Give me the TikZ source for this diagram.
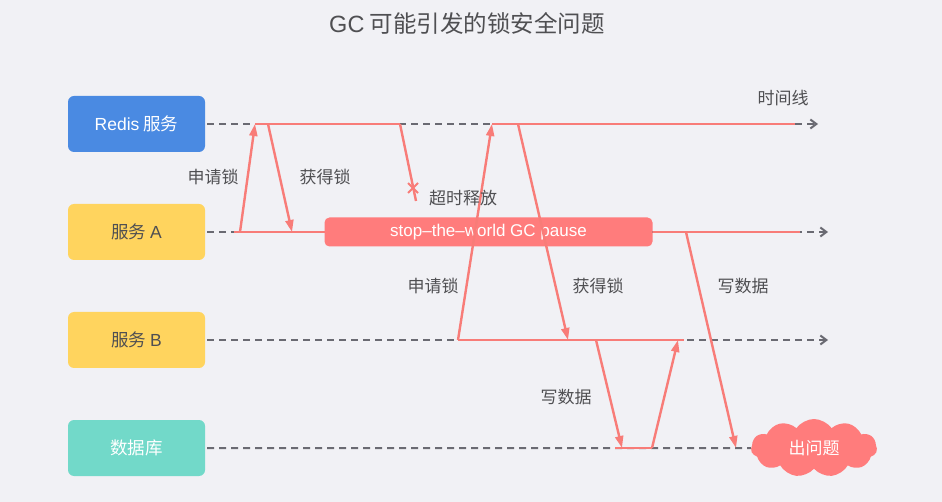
\documentclass[tikz,border=0pt]{standalone}
\usepackage{fontspec}
\setmainfont{Noto Sans CJK SC}
\newfontfamily\latin{Liberation Sans}
\usetikzlibrary{shapes.symbols,arrows.meta}
\definecolor{bg}{HTML}{F1F1F5}
\definecolor{redis}{HTML}{4A8AE2}
\definecolor{svc}{HTML}{FFD45E}
\definecolor{db}{HTML}{72D9C9}
\definecolor{lred}{HTML}{F87C78}
\definecolor{gcred}{HTML}{FF7C7C}
\definecolor{dgray}{HTML}{6A6A72}
\definecolor{txt}{HTML}{4F4F52}
\begin{document}
\begin{tikzpicture}[x=1pt,y=-1pt,
  actor/.style={rounded corners=6pt,minimum width=137pt,minimum height=56pt,inner sep=0pt,font=\fontsize{17.5}{20}\selectfont},
  tl/.style={dgray,line width=2pt,dash pattern=on 7pt off 5pt},
  tlarrow/.style={tl,-{Straight Barb[length=6pt,width=9pt,line width=2pt]}},
  seg/.style={lred,line width=2.6pt},
  msg/.style={lred,line width=2.4pt,-{Triangle[length=12pt,width=8pt]}},
  lbl/.style={txt,font=\fontsize{17}{20}\selectfont,inner sep=0pt}]
\fill[bg] (0,0) rectangle (942,502);
\useasboundingbox (0,0) rectangle (942,502);
\node[txt,font=\fontsize{23.5}{28}\selectfont] (title) at (467,23) {{\latin GC} 可能引发的锁安全问题};
% actors
\node[actor,fill=redis,text=white] (redis) at (136.5,124) {{\latin Redis} 服务};
\node[actor,fill=svc,text=txt] (sa) at (136.5,232) {服务 {\latin A}};
\node[actor,fill=svc,text=txt] (sb) at (136.5,340) {服务 {\latin B}};
\node[actor,fill=db,text=white] (dbn) at (136.5,448) {数据库};
% coordinates
\coordinate (r0) at (207,124); \coordinate (r1) at (255,124); \coordinate (r2) at (268,124);
\coordinate (r3) at (400,124); \coordinate (r4) at (492,124); \coordinate (r5) at (518,124);
\coordinate (r6) at (795,124); \coordinate (r7) at (818,124);
\coordinate (a0) at (207,232); \coordinate (a1) at (234,232); \coordinate (a2) at (292,232);
\coordinate (a4) at (686,232); \coordinate (a5) at (800,232); \coordinate (a6) at (828,232);
\coordinate (b0) at (207,340); \coordinate (b1) at (458,340); \coordinate (b2) at (568,340);
\coordinate (b3) at (596,340); \coordinate (b4) at (678,340); \coordinate (b5) at (684,340); \coordinate (b6) at (828,340);
\coordinate (d0) at (207,448); \coordinate (d1) at (622,448); \coordinate (d2) at (652,448); \coordinate (d3) at (736,448);
\coordinate (to) at (416,201);
% timelines
\draw[tlarrow] (r0) -- (r7);
\draw[tlarrow] (a0) -- (a6);
\draw[tlarrow] (b0) -- (b6);
% cloud
\node[cloud,cloud puffs=11,cloud puff arc=110,aspect=2.4,fill=gcred,draw=none,minimum width=126pt,minimum height=58pt,inner sep=0pt,text=white,font=\fontsize{17}{20}\selectfont] (cl) at (814,448) {出问题};
\draw[tl] (d0) -- (cl.west);
% red segments
\draw[seg] (r1) -- (r3);
\draw[seg] (r4) -- (r6);
\draw[seg] (a1) -- (326,232);
% GC box
\node[fill=gcred,rounded corners=5pt,minimum width=328pt,minimum height=29pt,inner sep=0pt,text=white,font=\latin\fontsize{17}{20}\selectfont] (gc) at (488.5,232) {stop–the–world GC pause};
\draw[seg] (gc.east) -- (a5);
\draw[seg] (b1) -- (b5);
\draw[seg] (615,448) -- (d2);
% messages
\draw[msg] (240,232) -- (r1);
\draw[msg] (r2) -- (a2);
\draw[msg] (b1) -- (r4);
\draw[msg] (r5) -- (b2);
\draw[msg] (b3) -- (d1);
\draw[msg] (d2) -- (b4);
\draw[msg] (a4) -- (d3);
\draw[lred,line width=2.4pt] (r3) -- (to);
\draw[lred,line width=2pt] (408,183) -- (418,193) (418,183) -- (408,193);
% labels
\node[lbl] (l1) at (213,177) {申请锁};
\node[lbl] (l2) at (325,177) {获得锁};
\node[lbl] (l3) at (463,198) {超时释放};
\node[lbl] (l4) at (433,286) {申请锁};
\node[lbl] (l5) at (598,286) {获得锁};
\node[lbl] (l6) at (743,286) {写数据};
\node[lbl] (l7) at (566,397) {写数据};
\node[lbl] (l8) at (783,98) {时间线};
\end{tikzpicture}
\end{document}
